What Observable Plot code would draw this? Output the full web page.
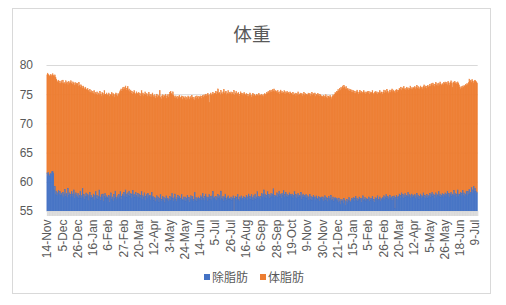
<!DOCTYPE html>
<html><head><meta charset="utf-8">
<script src="https://cdn.jsdelivr.net/npm/d3@7"></script>
<script src="https://cdn.jsdelivr.net/npm/@observablehq/plot@0.6"></script>
<style>
body{margin:0;background:#fff}
#c{position:relative;width:506px;height:305px;overflow:hidden;font-family:"Liberation Sans",Arial,sans-serif}
#frame{position:absolute;left:12px;top:8px;width:479px;height:286px;border:1px solid #d9d9d9;box-sizing:border-box}
#title{position:absolute;left:0;width:504px;top:24px;text-align:center;font-size:18.7px;line-height:1;font-family:"Noto Sans CJK JP",sans-serif;color:#595959}
#plot{position:absolute;left:0;top:50px}
#legend{position:absolute;left:0;top:271px;width:506px;height:14px;font-size:12px;line-height:12px;font-family:"Noto Sans CJK JP",sans-serif;color:#595959}
.sw{position:absolute;width:6px;height:6px;top:3px}
.lt{position:absolute;top:0}
</style></head>
<body><div id="c"><div id="frame"></div><div id="title"></div><div id="plot"></div><div id="legend"></div></div>
<script>
const chartTitle = "体重";
const seriesNames = ["除脂肪", "体脂肪"];
const seriesColors = ["#4472c4", "#ed7d31"];
const tickLabels = ["14-Nov","5-Dec","26-Dec","16-Jan","6-Feb","27-Feb","20-Mar","12-Apr","3-May","24-May","14-Jun","5-Jul","26-Jul","16-Aug","6-Sep","28-Sep","19-Oct","9-Nov","30-Nov","21-Dec","15-Jan","5-Feb","26-Feb","20-Mar","12-Apr","5-May","26-May","18-Jun","9-Jul"];
const yTicks = [55, 60, 65, 70, 75, 80];

// total body weight (top of the stacked column)
const weight = [
78.3,78.6,78.4,78.2,78.0,78.4,78.1,78.3,78.5,78.2,78.0,78.3,77.9,77.6,77.3,77.0,77.4,76.9,77.2,76.8,77.3,
76.9,77.4,76.8,77.0,76.7,77.3,76.9,77.1,76.6,77.2,76.8,77.0,77.3,76.9,76.7,77.1,76.8,76.5,77.0,76.6,76.9,
76.8,76.4,77.0,76.5,76.2,76.6,76.3,76.0,76.4,76.1,75.8,76.2,75.9,75.6,76.0,75.7,75.4,75.8,75.3,75.6,75.2,
75.5,75.1,75.6,74.9,75.3,75.0,75.4,74.8,75.2,74.9,75.5,75.0,74.7,75.3,75.1,74.8,75.6,75.0,74.9,75.2,74.8,
74.9,75.2,74.6,75.0,74.8,75.3,74.7,75.1,74.9,74.5,75.0,75.2,74.8,74.6,75.1,74.9,75.4,75.6,75.9,75.5,76.1,
75.8,76.2,75.9,76.4,75.7,76.0,76.3,75.6,75.9,75.4,75.7,75.2,75.5,75.0,75.3,75.6,75.1,74.9,75.4,75.2,75.0,
75.3,74.8,75.1,74.6,75.6,74.9,75.2,74.7,75.0,75.4,74.8,75.1,74.6,74.9,75.3,74.7,75.0,74.5,74.9,75.2,74.8,
74.5,74.9,74.3,74.7,75.0,74.4,74.8,74.6,75.6,74.5,74.2,74.7,74.9,74.4,74.8,74.6,75.0,74.3,74.7,74.9,74.5,
75.0,75.3,75.5,75.1,74.9,75.4,74.8,74.6,74.3,74.7,74.5,74.2,74.6,74.4,74.8,74.3,74.5,74.7,74.1,74.6,74.4,
74.3,74.6,74.0,74.5,74.2,74.7,74.4,74.1,74.6,74.3,74.8,74.5,74.2,74.4,74.0,74.6,74.3,74.7,74.5,74.2,74.6,
74.4,74.7,74.3,74.6,74.8,74.5,74.9,74.6,75.0,74.7,74.9,75.1,74.8,73.6,74.9,75.2,74.8,75.0,75.3,74.9,75.1,
75.2,75.5,75.0,75.4,75.9,75.1,75.3,74.9,75.6,75.2,75.0,75.4,75.8,75.1,75.3,75.5,74.9,75.2,75.6,75.0,75.3,
75.1,75.4,74.9,75.3,75.0,75.6,74.8,75.2,75.5,74.9,75.1,75.3,74.7,75.0,75.4,75.2,74.8,75.1,74.9,75.3,75.0,
74.8,75.1,74.7,75.0,74.6,74.9,75.2,74.8,74.5,74.9,75.1,74.7,75.0,74.8,74.6,75.0,74.9,74.7,75.1,74.8,74.9,
74.7,75.0,74.8,74.6,74.9,75.1,74.8,75.0,75.3,75.1,75.5,75.2,75.6,75.4,75.7,75.3,75.8,75.5,75.9,75.4,75.6,
75.5,75.2,75.6,75.3,75.0,75.4,75.7,75.2,75.5,75.1,75.3,75.6,75.0,75.4,75.2,75.5,75.1,75.3,75.0,75.4,75.2,
75.1,74.9,75.3,74.8,75.0,75.2,74.7,75.1,74.9,75.4,74.8,75.0,75.2,74.9,75.1,74.7,75.0,75.3,74.8,75.1,74.9,
75.0,74.8,75.2,74.9,75.1,74.7,75.0,75.3,74.8,75.1,74.9,75.2,74.6,75.0,74.8,75.1,74.9,74.7,75.0,74.8,74.6,
74.7,74.5,74.8,74.4,74.6,74.9,74.5,74.3,74.7,74.6,74.4,74.8,74.5,74.2,74.6,74.9,74.7,75.0,75.3,75.1,75.5,
75.4,75.8,75.5,76.0,75.7,76.2,75.9,76.4,76.1,76.5,76.2,75.9,76.3,75.8,76.0,75.6,75.9,75.5,75.8,75.4,75.7,
75.3,75.6,75.2,75.5,75.1,75.4,75.7,75.3,75.0,75.4,75.6,75.2,75.5,75.1,75.3,75.6,75.2,75.4,75.0,75.3,75.5,
75.2,75.5,75.0,75.4,75.1,75.3,75.6,75.2,74.9,75.3,75.5,75.1,75.4,75.0,75.3,75.2,75.6,75.1,75.4,75.3,75.0,
75.4,75.7,75.2,75.6,75.3,75.8,75.5,75.1,75.4,75.7,75.3,75.6,75.9,75.4,75.7,75.5,75.2,75.6,75.8,75.4,75.7,
75.6,76.0,75.8,76.2,75.7,76.1,75.9,76.3,75.8,76.0,75.6,76.2,75.9,76.1,75.7,76.0,76.4,75.8,76.1,75.9,76.2,
76.0,76.3,75.9,76.2,76.5,76.0,76.3,75.8,76.1,76.4,76.0,76.2,75.9,76.3,76.6,76.1,76.4,76.0,76.3,76.5,76.2,
76.4,76.7,76.3,76.8,76.5,76.9,76.6,76.3,76.7,77.0,76.5,76.8,76.4,76.9,76.6,77.1,76.7,76.5,76.8,76.6,77.0,
76.8,77.1,76.7,77.0,76.6,77.2,76.9,76.5,77.0,77.3,76.8,76.2,77.1,76.9,77.2,76.8,77.0,76.7,77.1,76.9,76.6,
76.2,75.9,76.3,76.0,76.4,76.2,76.5,76.3,76.7,76.5,76.8,76.6,77.0,77.6,77.2,77.4,77.0,77.5,77.2,76.9,77.3,
77.4,77.2,77.0,76.9
];

// 除脂肪 (lean mass, bottom of the stack; 体脂肪 fills from here up to weight)
const lean = [
61.5,61.0,61.6,61.2,60.9,61.4,61.3,61.7,61.8,61.5,58.6,59.2,57.9,58.4,57.6,58.1,58.5,57.8,58.3,57.7,58.0,
57.6,58.2,57.4,57.9,58.7,57.5,58.0,57.3,58.9,57.7,58.1,57.4,57.8,58.3,57.5,57.9,58.6,57.2,57.8,58.1,57.6,
57.4,58.0,57.2,57.7,58.4,57.1,57.6,58.9,57.3,57.8,57.0,57.5,58.1,57.4,57.9,56.8,57.6,58.2,57.3,57.7,57.1,
57.3,57.9,56.9,57.6,58.3,57.2,57.7,57.0,57.5,58.6,57.4,56.8,57.8,57.3,57.9,56.6,57.5,58.0,57.2,57.6,57.4,
57.1,57.7,56.5,57.5,58.1,57.0,57.4,56.7,57.8,57.2,58.4,57.3,56.9,57.6,57.1,57.8,57.4,58.3,57.0,57.5,57.9,
57.6,58.2,57.4,58.6,57.9,57.3,58.1,57.7,58.4,57.5,58.0,57.2,57.8,58.5,57.6,57.9,57.3,58.2,57.7,57.4,58.0,
57.4,57.9,57.2,57.7,58.3,57.0,57.6,57.3,58.1,56.8,57.5,57.8,57.2,58.0,57.4,57.7,56.9,57.6,58.2,57.3,57.5,
56.8,57.3,56.6,57.1,57.6,56.9,57.4,56.5,57.2,57.8,56.7,57.0,57.5,56.8,57.3,56.4,57.1,57.6,56.9,57.2,56.7,
57.0,57.5,56.8,57.3,58.0,57.1,56.7,57.4,57.9,57.0,56.6,57.3,57.7,57.1,57.5,56.9,57.2,57.8,57.0,56.8,57.4,
56.9,57.4,56.6,57.2,57.7,56.8,57.3,56.5,57.1,57.6,56.9,57.5,56.7,57.0,58.2,56.8,57.3,56.6,57.1,57.4,56.9,
57.1,57.6,56.9,57.4,58.0,57.2,56.8,57.5,57.9,57.1,57.4,56.7,57.3,57.8,57.0,57.5,56.9,57.6,58.3,57.2,57.4,
57.0,57.5,56.8,57.3,57.8,57.1,57.6,56.9,58.4,57.2,57.0,57.5,56.7,57.4,57.9,57.1,56.8,57.3,57.6,57.0,57.2,
57.0,57.4,56.8,57.2,57.6,54.8,57.1,57.5,56.9,57.3,57.8,57.0,56.7,57.4,57.1,57.6,56.9,57.2,57.5,57.0,57.3,
57.2,57.7,56.9,57.4,57.9,57.1,57.5,57.0,57.8,57.3,56.8,57.6,57.2,57.9,57.0,57.4,58.3,57.1,57.5,57.3,57.0,
57.5,58.0,57.3,57.8,58.6,57.4,57.9,57.2,57.7,58.3,57.5,57.8,57.1,57.6,58.0,57.4,57.9,58.8,57.3,57.7,57.5,
57.6,58.1,57.3,57.8,58.4,57.5,57.9,57.2,58.0,57.6,58.5,57.4,57.8,58.2,57.5,57.9,57.3,57.7,58.1,57.6,57.8,
57.5,57.9,57.2,57.7,58.3,57.4,57.8,57.1,57.6,58.0,57.3,57.7,57.5,58.2,57.0,57.6,57.9,57.3,57.7,57.4,57.8,
57.2,57.6,56.9,57.4,57.8,57.0,57.5,56.8,57.3,57.7,57.1,57.4,56.9,57.6,57.2,57.0,57.5,56.7,57.3,57.1,57.4,
57.0,57.4,56.7,57.2,57.6,56.8,57.3,56.6,57.1,57.5,56.9,57.2,57.7,56.8,57.0,57.4,56.6,57.1,57.3,56.9,57.2,
56.9,56.5,57.2,56.7,56.1,57.0,56.6,56.9,56.3,57.1,56.8,55.9,56.6,57.0,56.4,56.8,57.3,56.7,56.5,56.9,57.1,
56.9,57.3,56.7,57.1,57.5,56.8,57.2,56.6,57.0,57.4,56.9,57.2,56.5,57.1,57.6,56.8,57.0,57.3,56.7,57.1,56.9,
57.0,57.4,56.6,57.2,56.8,57.1,57.5,56.7,57.0,56.5,57.3,56.9,57.2,57.6,56.8,57.0,57.4,56.7,57.1,56.9,57.3,
57.2,57.6,56.9,57.4,57.8,57.1,57.5,57.0,57.3,57.7,57.1,57.4,56.8,57.5,57.2,57.6,55.4,57.3,57.7,57.0,57.4,
57.5,57.9,57.2,57.7,58.1,57.4,57.8,57.1,57.6,58.0,57.3,57.7,57.5,58.2,57.4,57.8,57.2,57.6,57.9,57.3,57.7,
57.4,57.8,57.1,57.6,58.0,57.3,57.7,57.0,57.5,57.9,57.2,57.6,57.4,58.1,57.3,57.7,57.1,57.5,57.8,57.2,57.6,
57.6,58.0,57.3,57.8,58.2,57.5,57.9,57.2,57.7,58.1,57.4,57.8,57.6,58.3,57.5,57.9,57.3,57.7,58.0,57.4,57.8,
57.7,58.1,57.4,57.9,58.4,57.6,58.0,57.3,57.8,58.2,57.5,57.9,57.7,58.5,57.6,58.0,57.4,57.8,58.6,57.5,57.9,
57.8,58.2,57.6,58.0,58.5,57.7,58.1,57.4,57.9,58.4,57.6,58.3,57.8,58.7,57.9,58.2,59.0,58.1,58.6,59.2,58.4,
58.9,58.3,58.0,58.2
];

const N = Math.min(weight.length, lean.length);
const rows = d3.range(N).map(i => ({i, w: weight[i], l: lean[i]}));
const labelIdx = tickLabels.map((_, k) => k * 21).filter(i => i < N);

const chart = Plot.plot({
  width: 506, height: 220,
  marginLeft: 46.5, marginRight: 28.3, marginTop: 15, marginBottom: 59,
  style: {fontFamily: "'Liberation Sans', Arial, sans-serif", fontSize: "12px", color: "#595959", background: "transparent", overflow: "visible"},
  x: {type: "band", domain: d3.range(N), padding: 0, axis: null, label: null},
  y: {domain: [55, 80], axis: null, label: null},
  marks: [
    Plot.gridY(yTicks, {stroke: "#d9d9d9", strokeOpacity: 1}),
    Plot.barY(rows, {x: "i", y1: "l", y2: "w", fill: seriesColors[1], stroke: seriesColors[1], strokeWidth: 0.5, clip: true}),
    Plot.barY(rows, {x: "i", y1: 50, y2: "l", fill: seriesColors[0], stroke: seriesColors[0], strokeWidth: 0.5, clip: true}),
    Plot.axisX(d3.range(N), {tickSize: 5, stroke: "#d9d9d9", tickFormat: () => "", label: null}),
    Plot.axisX(labelIdx, {tickSize: 0, tickPadding: 8, tickRotate: -90, tickFormat: i => tickLabels[i / 21], fill: "#595959", fontSize: 12, label: null}),
    Plot.axisY(yTicks, {tickSize: 0, tickPadding: 14, fill: "#595959", fontSize: 12, label: null})
  ]
});
document.getElementById("plot").appendChild(chart);
document.getElementById("title").textContent = chartTitle;

const legend = document.getElementById("legend");
const lx = [[204, 212], [260, 268]];
seriesNames.forEach((name, k) => {
  const sw = document.createElement("div");
  sw.className = "sw"; sw.style.left = lx[k][0] + "px"; sw.style.background = seriesColors[k];
  const t = document.createElement("div");
  t.className = "lt"; t.style.left = lx[k][1] + "px"; t.textContent = name;
  legend.appendChild(sw); legend.appendChild(t);
});
</script></body></html>
